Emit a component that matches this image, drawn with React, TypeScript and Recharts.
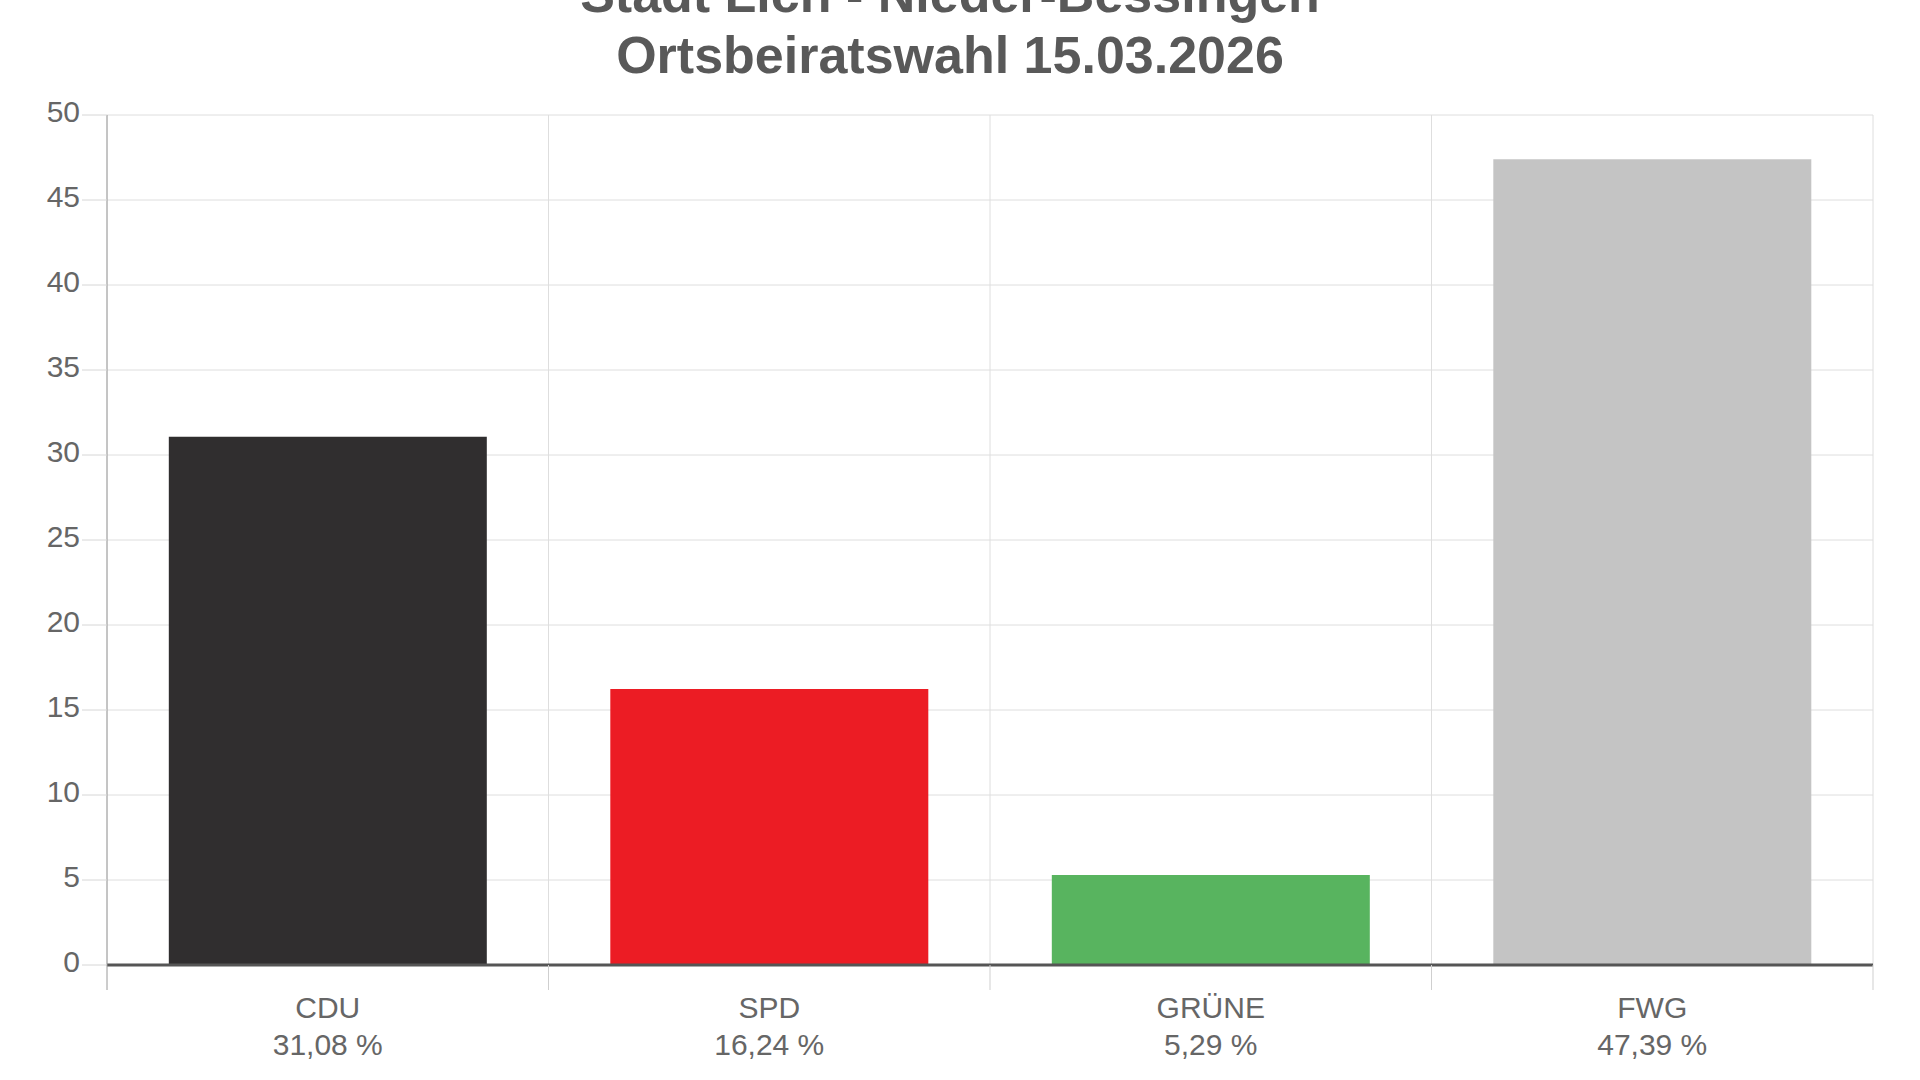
import React from "react";
import { BarChart, Bar, XAxis, YAxis, CartesianGrid, Cell } from "recharts";

// Ortsbeiratswahl Nieder-Bessingen – Stimmenanteile in %
const PARTIES = ["CDU", "SPD", "GRÜNE", "FWG"];
const VOTE_SHARES = [31.08, 16.24, 5.29, 47.39];
const PARTY_COLORS = ["#302e2f", "#ec1c24", "#58b45f", "#c4c4c4"];
const Y_TICKS = [0, 5, 10, 15, 20, 25, 30, 35, 40, 45, 50];
const TITLE_LINES = ["Stadt Lich - Nieder-Bessingen", "Ortsbeiratswahl 15.03.2026"];

const FONT = '"Liberation Sans", Arial, sans-serif';
const LABEL_COLOR = "#666666";

const data = PARTIES.map((party, i) => ({
  party,
  share: VOTE_SHARES[i],
}));

const formatPct = (v: number) => `${v.toFixed(2).replace(".", ",")} %`;

// category labels plus the small tick marks at the band edges (like chart.js offset grid)
const PartyTick = (props: any) => {
  const { x, y, index, width, visibleTicksCount } = props;
  const band = width / visibleTicksCount;
  const left = x - band / 2;
  const right = x + band / 2;
  const isLast = index === visibleTicksCount - 1;
  return (
    <g>
      <line x1={left} x2={left} y1={y} y2={y + 25} stroke={index === 0 ? "#9a9a9a" : "#cfcfcf"} />
      {isLast && <line x1={right} x2={right} y1={y} y2={y + 25} stroke="#cfcfcf" />}
      <text x={x} y={y + 53} textAnchor="middle" fill={LABEL_COLOR} fontSize={30} fontFamily={FONT}>
        {PARTIES[index]}
      </text>
      <text x={x} y={y + 90} textAnchor="middle" fill={LABEL_COLOR} fontSize={30} fontFamily={FONT}>
        {formatPct(VOTE_SHARES[index])}
      </text>
    </g>
  );
};

const ValueTick = (props: any) => {
  const { x, y, payload } = props;
  return (
    <text x={x} y={y - 4} dy="0.355em" textAnchor="end" fill={LABEL_COLOR} fontSize={30} fontFamily={FONT}>
      {payload.value}
    </text>
  );
};

const bandEdges = ({ offset }: any) =>
  PARTIES.map((_, i) => offset.left + (i * offset.width) / PARTIES.length).concat(
    offset.left + offset.width
  );

export default function App() {
  return (
    <div style={{ position: "absolute", left: 0, top: 0, width: 1920, height: 1080, background: "#fff" }}>
      <BarChart
        width={1920}
        height={1080}
        data={data}
        barCategoryGap="14%"
        margin={{ top: 115, right: 47, left: 17, bottom: 25 }}
      >
        <CartesianGrid stroke="#dedede" strokeWidth={1} verticalCoordinatesGenerator={bandEdges} />
        <XAxis
          dataKey="party"
          interval={0}
          height={90}
          tickSize={0}
          tickMargin={0}
          tickLine={false}
          axisLine={{ stroke: "#555555", strokeWidth: 3 }}
          tick={<PartyTick />}
        />
        <YAxis
          domain={[0, 50]}
          ticks={Y_TICKS}
          width={90}
          tickSize={25}
          tickMargin={2}
          tickLine={{ stroke: "#d6d6d6" }}
          axisLine={{ stroke: "#9a9a9a" }}
          tick={<ValueTick />}
        />
        <Bar dataKey="share" isAnimationActive={false}>
          {data.map((d, i) => (
            <Cell key={d.party} fill={PARTY_COLORS[i]} />
          ))}
        </Bar>
      </BarChart>
      <svg
        width={1920}
        height={120}
        style={{ position: "absolute", left: 0, top: 0, pointerEvents: "none" }}
      >
        {TITLE_LINES.map((line, i) => (
          <text
            key={line}
            x={950}
            y={12 + i * 61}
            textAnchor="middle"
            fill="#595959"
            fontSize={52}
            fontWeight="bold"
            fontFamily={FONT}
          >
            {line}
          </text>
        ))}
      </svg>
    </div>
  );
}
